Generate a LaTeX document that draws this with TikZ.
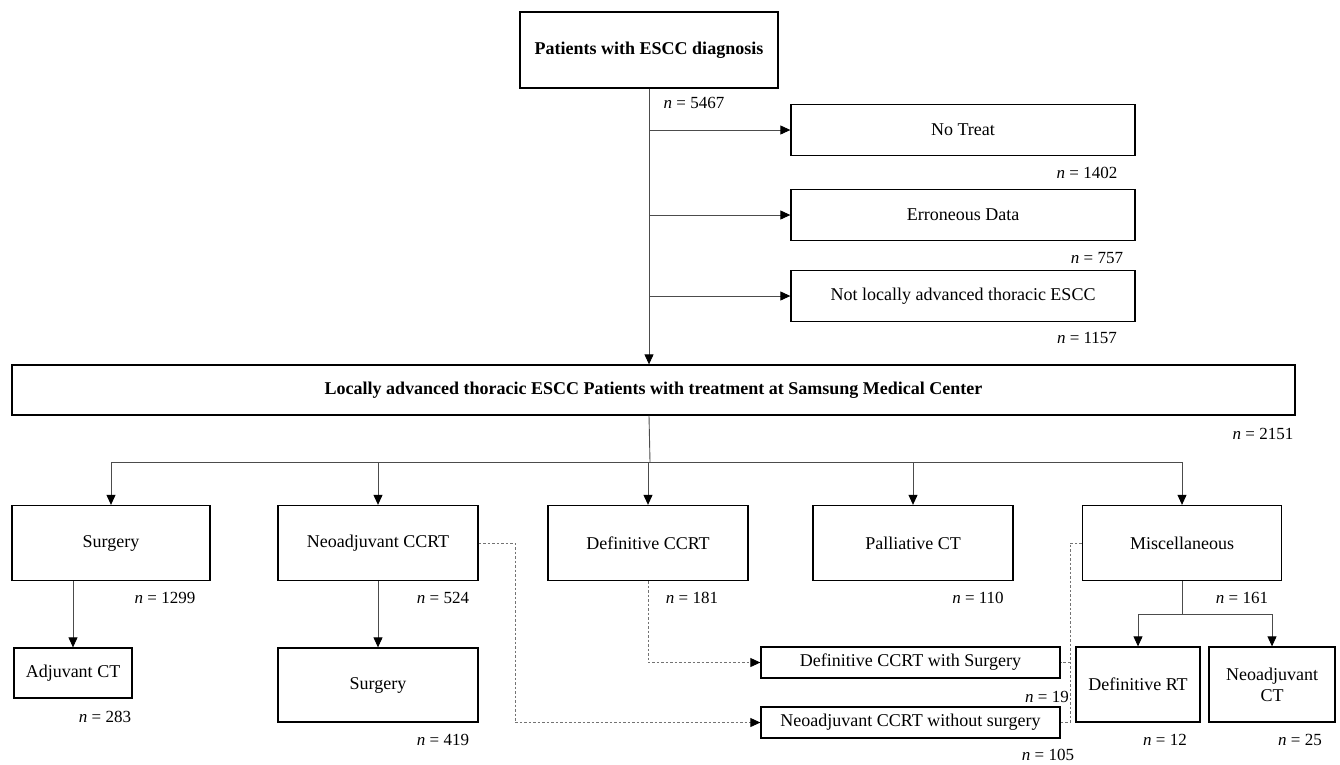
\documentclass[tikz,border=0pt]{standalone}
\usepackage{fontspec}
\setmainfont{Liberation Serif}
\usetikzlibrary{arrows.meta}

\begin{document}
\begin{tikzpicture}[x=1pt,y=-1pt,
        box/.style={draw=black,line width=1.3pt,fill=white,inner sep=2pt,
            font=\fontsize{18}{21}\selectfont,align=center},
        nlab/.style={font=\fontsize{17}{19}\selectfont,inner sep=0pt},
        arr/.style={draw=black!70,line width=0.9pt,-{Triangle[length=10pt,width=9pt,color=black]}},
        con/.style={draw=black!70,line width=0.9pt},
        dots/.style={draw=black!55,line width=0.9pt,dash pattern=on 2.5pt off 2pt},
        dotarr/.style={dots,-{Triangle[length=10pt,width=9pt,color=black]}}]
    \useasboundingbox (0,0) rectangle (1340,764);

\node[box,minimum width=258pt,minimum height=76pt,font=\fontsize{18}{21}\selectfont\bfseries] (top) at (649,50) {Patients with ESCC diagnosis};
\node[nlab] (ntop) at (694,103) {\textit{n} = 5467};

\node[box,minimum width=344pt,minimum height=51pt] (notreat) at (963,130) {No Treat};
\node[nlab] (nnotreat) at (1087,173) {\textit{n} = 1402};
\node[box,minimum width=344pt,minimum height=51pt] (errdata) at (963,215) {Erroneous Data};
\node[nlab] (nerrdata) at (1097,258) {\textit{n} = 757};
\node[box,minimum width=344pt,minimum height=51pt] (notlocal) at (963,296) {Not locally advanced thoracic ESCC};
\node[nlab] (nnotlocal) at (1087,338) {\textit{n} = 1157};

\node[box,minimum width=1283pt,minimum height=50pt,font=\fontsize{18}{21}\selectfont\bfseries] (locadv) at (653.5,390)
    {Locally advanced thoracic ESCC Patients with treatment at Samsung Medical Center};
\node[nlab] (nlocadv) at (1263,434) {\textit{n} = 2151};

% treatment groups
\node[box,minimum width=198pt,minimum height=75pt] (surg) at (111,543) {Surgery};
\node[nlab] (nsurg) at (165,598) {\textit{n} = 1299};
\node[box,minimum width=200pt,minimum height=75pt] (neo) at (378,543) {Neoadjuvant CCRT};
\node[nlab] (nneo) at (443,598) {\textit{n} = 524};
\node[box,minimum width=200pt,minimum height=75pt] (defccrt) at (648,543) {Definitive CCRT};
\node[nlab] (ndefccrt) at (692,598) {\textit{n} = 181};
\node[box,minimum width=200pt,minimum height=75pt] (pall) at (913,543) {Palliative CT};
\node[nlab] (npall) at (978,598) {\textit{n} = 110};
\node[box,minimum width=199pt,minimum height=75pt] (misc) at (1182,543) {Miscellaneous};
\node[nlab] (nmisc) at (1242,598) {\textit{n} = 161};

\node[box,minimum width=118pt,minimum height=50pt] (adjct) at (73,673) {Adjuvant CT};
\node[nlab] (nadjct) at (105,717) {\textit{n} = 283};
\node[box,minimum width=200pt,minimum height=74pt] (surgtwo) at (378,685) {Surgery};
\node[nlab] (nsurgtwo) at (443,740) {\textit{n} = 419};
\node[box,minimum width=299pt,minimum height=31pt,inner sep=0pt] (defsurg) at (910.5,662.5) {Definitive CCRT with Surgery};
\node[nlab] (ndefsurg) at (1047,697) {\textit{n} = 19};
\node[box,minimum width=299pt,minimum height=31pt,inner sep=0pt] (neowo) at (910.5,722.5) {Neoadjuvant CCRT without surgery};
\node[nlab] (nneowo) at (1048,755) {\textit{n} = 105};
\node[box,minimum width=124pt,minimum height=75pt] (defrt) at (1138,684.5) {Definitive RT};
\node[nlab] (ndefrt) at (1165,740) {\textit{n} = 12};
\node[box,minimum width=126pt,minimum height=75pt] (neoct) at (1272,684.5) {Neoadjuvant\\CT};
\node[nlab] (nneoct) at (1300,740) {\textit{n} = 25};

% exclusions
\draw[arr] (top.south) -- (top.south |- locadv.north);
\draw[arr] (top.south |- notreat.west) -- (notreat.west);
\draw[arr] (top.south |- errdata.west) -- (errdata.west);
\draw[arr] (top.south |- notlocal.west) -- (notlocal.west);

\coordinate (split) at (650,462);
\draw[con] (top.south |- locadv.south) -- (split);
\draw[arr] (split) -| (surg.north);
\draw[arr] (split) -| (neo.north);
\draw[arr] (split) -- (split -| defccrt.north) -- (defccrt.north);
\draw[arr] (split) -| (pall.north);
\draw[arr] (split) -| (misc.north);

\draw[arr] (adjct |- surg.south) -- (adjct.north);
\draw[arr] (neo.south) -- (surgtwo.north);

\coordinate (msplit) at (1182,614);
\draw[con] (misc.south) -- (msplit);
\draw[arr] (msplit) -| (defrt.north);
\draw[arr] (msplit) -| (neoct.north);

% cross-over paths
\draw[dotarr] (defccrt.south) |- (defsurg.west);
\coordinate (dneo) at (515,543);
\draw[dotarr] (neo.east) -- (dneo) |- (neowo.west);
\coordinate (dmisc) at (1070,543);
\draw[dots] (misc.west) -- (dmisc) |- (neowo.east);
\draw[dots] (dmisc |- defsurg.east) -- (defsurg.east);
\end{tikzpicture}
\end{document}
